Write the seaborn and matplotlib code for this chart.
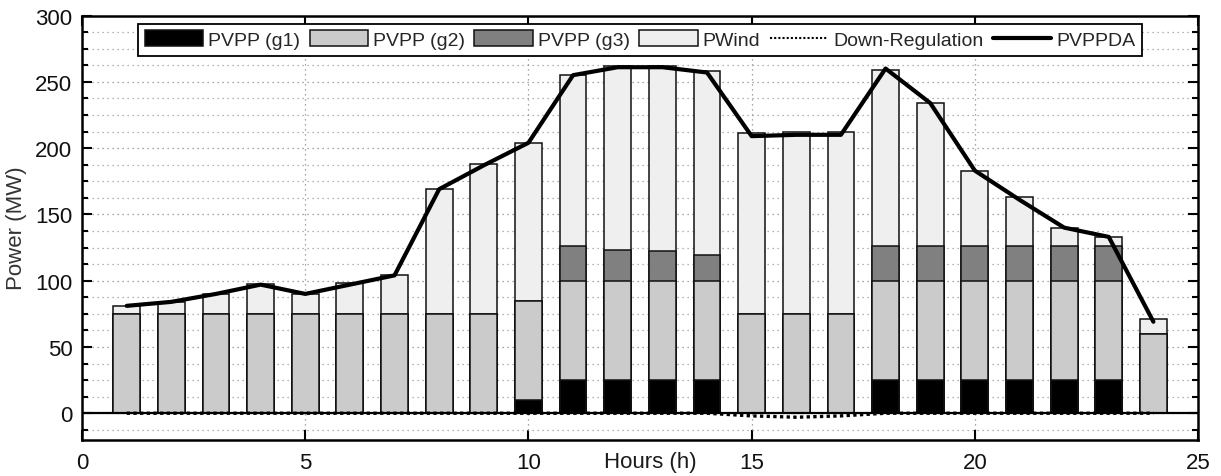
import matplotlib
matplotlib.use("Agg")
import matplotlib.pyplot as plt
import numpy as np
import pandas as pd
import seaborn as sns
from matplotlib.patches import Patch
from matplotlib.lines import Line2D
from matplotlib.ticker import MultipleLocator

# ---------------- data ----------------
hours = [1, 2, 3, 4, 5, 6, 7, 8, 9, 10, 11, 12, 13, 14, 15, 16, 17, 18, 19, 20, 21, 22, 23, 24]
pvpp_g1 = [0, 0, 0, 0, 0, 0, 0, 0, 0, 10, 25, 25, 25, 25, 0, 0, 0, 25, 25, 25, 25, 25, 25, 0]
pvpp_g2 = [75, 75, 75, 75, 75, 75, 75, 75, 75, 75, 75, 75, 75, 75, 75, 75, 75, 75, 75, 75, 75, 75, 75, 60]
pvpp_g3 = [0, 0, 0, 0, 0, 0, 0, 0, 0, 0, 26, 23, 22.5, 19, 0, 0, 0, 26, 26, 26, 26, 26, 26, 0]
pwind = [6, 9, 15, 22.5, 15, 23, 29, 94, 113, 119, 129, 139, 139.5, 139, 136, 137, 137, 133, 108, 57, 37, 14, 7, 11]
down_regulation = [0, 0, 0, 0, 0, 0, 0, 0, 0, 0, 0, 0, 0, 0, -2, -3, -2, 0, 0, 0, 0, 0, 0, 0]
pvppda = [81, 84, 90, 97, 90, 97, 104, 169, 187, 204, 255, 261, 261, 257, 209, 210, 210, 260, 234, 183, 161, 140, 133, 69]

series_names = ["PVPP (g1)", "PVPP (g2)", "PVPP (g3)", "PWind"]
series_colors = ["#000000", "#cbcbcb", "#808080", "#efefef"]
yticks = [0, 50, 100, 150, 200, 250, 300]
xticks = [0, 5, 10, 15, 20, 25]

df = pd.DataFrame({"hour": hours, "g1": pvpp_g1, "g2": pvpp_g2, "g3": pvpp_g3, "wind": pwind})
df["c1"] = df["g1"]
df["c2"] = df["c1"] + df["g2"]
df["c3"] = df["c2"] + df["g3"]
df["c4"] = df["c3"] + df["wind"]

# ---------------- style ----------------
sns.set_theme(style="white")
plt.rcParams["font.family"] = ["Liberation Sans", "DejaVu Sans"]
plt.rcParams["axes.unicode_minus"] = False

fig = plt.figure(figsize=(12.21, 4.77), dpi=100)
ax = fig.add_axes([0.0672, 0.076, 0.914, 0.8894])

# stacked bars drawn as overlapping cumulative bars (top layer first)
for col, color in zip(["c4", "c3", "c2", "c1"], series_colors[::-1]):
    sns.barplot(data=df, x="hour", y=col, native_scale=True, width=0.6,
                color=color, saturation=1, edgecolor="#111111", linewidth=1.1,
                errorbar=None, ax=ax, zorder=3)

sns.lineplot(x=hours, y=down_regulation, color="black", linestyle=(0, (1, 1)),
             linewidth=2.4, ax=ax, zorder=4)
sns.lineplot(x=hours, y=pvppda, color="black", linewidth=3.0, ax=ax, zorder=5)

ax.axhline(0, color="black", linewidth=1.6, zorder=3.5)

ax.set_xlim(0, 25)
ax.set_ylim(-20, 300)
ax.set_xticks(xticks)
ax.set_yticks(yticks)
ax.yaxis.set_minor_locator(MultipleLocator(12.5))
ax.set_axisbelow(True)

ax.grid(which="major", axis="both", linestyle=(0, (1, 3)), color="#8a8a8a", linewidth=0.9)
ax.grid(which="minor", axis="y", linestyle=(0, (1, 3)), color="#9a9a9a", linewidth=0.9)

for s in ax.spines.values():
    s.set_color("black")
    s.set_linewidth(1.8)
    s.set_visible(True)

ax.tick_params(which="both", direction="in", top=True, right=True, left=True, bottom=True,
               color="black", width=1.5)
ax.tick_params(which="major", length=7, labelsize=16, pad=7, labelcolor="#111111")
ax.tick_params(which="minor", length=4)
ax.tick_params(axis="x", which="major", pad=9)

ax.set_xlabel("Hours (h)", fontsize=16, color="#1a1a1a")
ax.xaxis.set_label_coords(0.509, -0.027)
ax.set_ylabel("Power (MW)", fontsize=16, color="#333333")
ax.yaxis.set_label_coords(-0.049, 0.5)

handles = [Patch(facecolor=c, edgecolor="#111111", linewidth=1.1) for c in series_colors]
handles += [Line2D([0], [0], color="black", linestyle=(0, (1, 1)), linewidth=1.5),
            Line2D([0], [0], color="black", linewidth=3.0)]
labels = series_names + ["Down-Regulation", "PVPPDA"]
leg = ax.legend(handles, labels, loc="upper center", ncol=6, fontsize=14,
                frameon=True, fancybox=False, framealpha=1, edgecolor="black",
                borderpad=0.35, handlelength=3.0, handleheight=0.85, handletextpad=0.25,
                columnspacing=0.5, borderaxespad=0.42)
leg.get_frame().set_linewidth(1.3)
leg.set_zorder(10)

fig.savefig("out.png", dpi=100)
